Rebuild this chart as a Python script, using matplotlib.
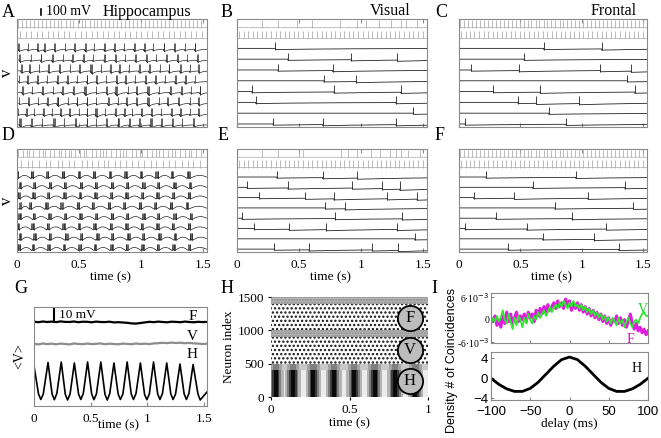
import numpy as np
import matplotlib
matplotlib.use("Agg")
import matplotlib.pyplot as plt
from matplotlib.transforms import blended_transform_factory

plt.rcParams['font.family'] = ['Liberation Serif', 'DejaVu Serif']
plt.rcParams['hatch.linewidth'] = 1.1

# ------------------------------------------------------------------ data
# spike times (s); rows 0-1 grey cells, rows 2-9 black cells
A_gray = [
    "0.010 0.042 0.071 0.105 0.138 0.166 0.199 0.233 0.262 0.296 0.330 0.358 0.391 0.425 0.454 0.489 0.521 0.550 0.584 0.617 0.646 0.680 0.712 0.742 0.776 0.808 0.838 0.871 0.904 0.934 0.967 1.000 1.030 1.063 1.096 1.126 1.159 1.192 1.222 1.255 1.288 1.318 1.351 1.384 1.414 1.447 1.480",
    "0.025 0.070 0.112 0.158 0.201 0.246 0.290 0.334 0.380 0.421 0.468 0.512 0.556 0.601 0.645 0.690 0.733 0.778 0.822 0.866 0.911 0.955 0.999 1.044 1.088 1.133 1.177 1.221 1.265 1.310 1.354 1.398 1.443 1.487",
]
# groups "onset x count"
A_black = [
    "0.010x2 0.085x1 0.165x2 0.215x2 0.300x2 0.390x1 0.460x2 0.545x2 0.620x1 0.700x2 0.780x2 0.860x1 0.940x2 1.020x2 1.095x1 1.180x2 1.265x2 1.350x1 1.430x2",
    "0.020x2 0.110x1 0.190x2 0.280x2 0.370x1 0.440x2 0.530x2 0.610x1 0.700x2 0.790x2 0.870x1 0.950x2 1.040x2 1.120x1 1.200x2 1.290x2 1.370x1 1.450x2",
    "0.030x2 0.100x2 0.180x1 0.250x2 0.340x2 0.430x1 0.500x2 0.590x3 0.680x1 0.750x2 0.820x2 0.900x1 0.980x2 1.060x2 1.150x1 1.220x2 1.310x2 1.390x1 1.460x2",
    "0.015x1 0.080x2 0.160x2 0.240x1 0.320x2 0.400x2 0.480x1 0.560x2 0.640x2 0.720x1 0.800x2 0.870x2 0.950x1 1.030x2 1.110x2 1.190x1 1.270x2 1.350x2 1.430x1",
    "0.040x2 0.120x1 0.200x2 0.290x1 0.360x2 0.450x2 0.540x3 0.640x1 0.720x2 0.790x3 0.890x1 0.960x2 1.050x3 1.140x1 1.230x2 1.320x2 1.400x1 1.470x2",
    "0.020x1 0.090x2 0.170x1 0.240x2 0.320x3 0.410x1 0.480x2 0.560x2 0.640x1 0.730x2 0.810x1 0.880x2 0.960x2 1.050x3 1.140x1 1.210x2 1.300x2 1.390x1 1.460x2",
    "0.010x1 0.070x2 0.140x1 0.210x2 0.280x1 0.350x2 0.420x2 0.500x1 0.560x2 0.630x3 0.710x1 0.790x2 0.860x2 0.930x1 1.000x2 1.080x2 1.160x1 1.240x2 1.310x2 1.390x1 1.460x2",
    "0.020x3 0.110x2 0.200x1 0.290x3 0.380x1 0.470x2 0.560x2 0.640x1 0.720x2 0.810x3 0.900x2 0.980x2 1.070x3 1.160x2 1.250x2 1.330x1 1.420x2",
]
D_gray = [
    "0.010 0.045 0.080 0.098 0.130 0.175 0.210 0.228 0.262 0.300 0.335 0.352 0.385 0.420 0.438 0.470 0.505 0.540 0.558 0.600 0.635 0.668 0.690 0.720 0.760 0.795 0.830 0.850 0.880 0.925 0.960 0.990 1.010 1.050 1.090 1.120 1.140 1.175 1.215 1.250 1.270 1.310 1.350 1.385 1.405 1.440 1.480",
    "0.030 0.085 0.120 0.175 0.230 0.262 0.330 0.360 0.420 0.455 0.520 0.560 0.600 0.650 0.700 0.730 0.790 0.830 0.880 0.930 0.975 1.020 1.080 1.120 1.175 1.220 1.270 1.330 1.380 1.420 1.470",
]
D_black = [
    "0.000x3 0.110x5 0.235x4 0.360x5 0.490x4 0.610x5 0.740x4 0.865x5 0.990x4 1.115x5 1.240x4 1.370x5",
    "0.015x4 0.130x4 0.255x5 0.375x4 0.505x5 0.625x4 0.755x5 0.880x4 1.005x5 1.130x4 1.255x5 1.385x4",
    "0.005x4 0.120x5 0.245x4 0.370x5 0.500x4 0.620x5 0.750x4 0.870x5 1.000x4 1.120x5 1.250x4 1.375x5",
    "0.020x3 0.100x4 0.225x5 0.350x4 0.480x5 0.600x4 0.730x5 0.855x4 0.980x5 1.105x4 1.230x5 1.360x4",
    "0.010x5 0.125x4 0.250x5 0.380x4 0.500x5 0.630x4 0.755x5 0.880x4 1.010x5 1.130x4 1.260x5 1.390x4",
    "0.000x4 0.115x5 0.240x4 0.365x5 0.490x4 0.615x5 0.745x4 0.870x5 0.995x4 1.120x5 1.245x4 1.375x5",
    "0.015x4 0.130x5 0.255x4 0.385x5 0.510x4 0.635x5 0.760x4 0.885x5 1.010x4 1.135x5 1.265x4 1.390x5",
    "0.005x5 0.120x4 0.245x5 0.370x4 0.495x5 0.620x4 0.750x5 0.875x4 1.000x5 1.125x4 1.250x5 1.380x4",
]
REG_GRAY_1 = "0.015 0.053 0.088 0.126 0.162 0.200 0.236 0.273 0.311 0.346 0.385 0.420 0.459 0.494 0.533 0.568 0.607 0.642 0.681 0.716 0.755 0.790 0.829 0.864 0.903 0.938 0.977 1.012 1.051 1.086 1.125 1.160 1.199 1.234 1.273 1.308 1.347 1.382 1.421 1.456 1.494"
REG_GRAY_0 = "0.010 0.040 0.075 0.105 0.140 0.170 0.205 0.232 0.268 0.300 0.332 0.365 0.395 0.430 0.462 0.495 0.525 0.560 0.590 0.625 0.655 0.690 0.720 0.752 0.785 0.818 0.850 0.882 0.915 0.945 0.980 1.012 1.045 1.075 1.110 1.140 1.172 1.205 1.238 1.270 1.302 1.335 1.368 1.400 1.432 1.465 1.495"
B_gray = ["0.20 0.33 0.48 0.60 0.83 0.97 1.04 1.14 1.24 1.32 1.36 1.45", REG_GRAY_1]
B_black = ["0.31", "0.41 0.92 1.29", "0.33 0.77", "0.70 0.96", "0.12 0.78 1.32",
           "0.15 1.28", "1.42", "0.29 0.69 1.28"]
C_gray = [REG_GRAY_0, REG_GRAY_1]
C_black = ["0.69 1.16", "0.53", "0.10 0.49 1.15 1.40", "1.37", "0.28 0.66 1.43",
           "0.48 0.63 0.98", "0.73", "0.05 0.87"]
E_gray = ["0.20 0.33 0.50 0.53 0.84 0.89 0.97 1.08 1.15 1.23 1.28 1.32 1.38 1.47", REG_GRAY_1]
E_black = ["0.32 0.69 0.97", "0.08 0.41 0.93 1.17 1.31", "0.18 0.55 0.78 1.21 1.45",
           "0.71 0.87", "0.04 0.79 1.33", "0.14 0.42 0.72 1.29", "1.43", "0.30 0.58 1.09 1.30"]
F_gray = [REG_GRAY_0, REG_GRAY_1]
F_black = ["0.22 0.95", "0.60 1.35", "0.12 0.45 1.05", "0.78 1.42", "0.30 0.92",
           "0.05 0.55 1.20", "0.68 1.10", "0.40 1.30"]

# panel G: population-mean potentials (display units)
G_F = [84.3, 83.8, 84.5, 84.0, 84.4, 83.9, 84.6, 84.1, 84.0, 84.5, 83.8, 84.3, 84.2, 83.7,
       84.4, 84.0, 83.9, 84.3, 83.6, 83.8, 83.5, 83.2, 82.6, 82.4, 83.0, 83.6, 84.2, 83.8,
       84.4, 84.0, 83.7, 84.3, 84.1, 83.8, 84.4, 84.0, 83.7, 84.2, 83.9, 84.1]
G_V = [62.2, 61.6, 62.5, 61.9, 62.3, 61.7, 62.4, 62.0, 61.6, 62.5, 62.1, 61.8, 62.4, 61.9,
       62.2, 62.6, 61.8, 62.3, 62.0, 61.7, 62.4, 62.1, 61.8, 62.5, 62.0, 62.3, 61.9, 62.6,
       62.8, 63.2, 62.9, 63.4, 63.0, 63.3, 62.8, 63.1, 62.6, 62.4, 62.0, 62.3]
# hippocampal oscillation: peak, shoulder, trough, shoulder ... (time s, value)
G_H_t = [0.000, 0.040, 0.060, 0.082,
         0.124, 0.160, 0.180, 0.202,
         0.241, 0.277, 0.297, 0.319,
         0.357, 0.394, 0.414, 0.436,
         0.474, 0.510, 0.530, 0.552,
         0.591, 0.628, 0.648, 0.670,
         0.707, 0.744, 0.764, 0.786,
         0.824, 0.860, 0.880, 0.902,
         0.941, 0.978, 0.998, 1.020,
         1.057, 1.094, 1.114, 1.136,
         1.174, 1.210, 1.230, 1.252,
         1.291, 1.328, 1.348, 1.370,
         1.407, 1.450, 1.470, 1.492, 1.530]
G_H_v = [40.0, 12.0, 6.5, 12.0,
         43.5, 12.0, 6.3, 12.5,
         44.0, 11.5, 6.0, 12.0,
         43.0, 12.0, 6.5, 12.5,
         44.0, 12.0, 6.3, 12.0,
         44.0, 11.5, 6.0, 12.5,
         43.0, 12.0, 6.5, 12.0,
         44.0, 12.0, 6.5, 12.5,
         43.0, 11.5, 6.3, 12.0,
         44.0, 12.0, 6.5, 12.5,
         43.0, 12.0, 6.5, 12.0,
         42.0, 12.0, 6.5, 12.5,
         41.5, 12.0, 6.0, 9.0, 14.0]

# panel H: raster theta stripe times and circle labels
H_stripes = [0.03, 0.14, 0.27, 0.40, 0.53, 0.66, 0.79, 0.92]
H_labels = ['F', 'V', 'H']
H_label_y = [1190, 710, 235]

# panel I: cross-correlation densities (x 1e-3)
I_delay = np.arange(-100, 100.1, 2.5)
I_V = [-1.0, 0.5, -0.5, 1.0, -0.5, 0.5, 2.5, 0.0, -1.0, 1.5, -0.5, -2.5, 0.5, -1.5, 1.0,
       0.0, -2.0, 0.5, -1.0, 1.5, 0.0, -1.0, 1.0, 0.0, 2.0, 0.5, 1.5, 2.5, 1.0, 2.0, 3.5,
       2.0, 3.0, 4.0, 3.0, 4.5, 3.5, 5.0, 4.0, 3.0, 4.5, 3.5, 5.0, 3.5, 4.0, 3.0, 4.0, 2.5,
       3.5, 2.0, 3.0, 1.5, 2.5, 1.0, 2.0, 0.5, 1.5, 0.0, 1.0, -0.5, 0.5, -1.0, 0.5, -0.5,
       -1.5, 0.5, -1.0, 0.0, -2.0, -0.5, 0.5, -1.0, -2.0, -0.5, 0.0, -1.0, 0.5, 1.5, 2.0,
       1.0, 1.0]
I_F = [0.5, -0.5, 1.0, -1.5, 0.0, -2.0, 1.0, -1.0, 2.0, -0.5, 1.5, -1.0, 0.5, 2.0, -0.5,
       1.0, 0.0, 1.5, -0.5, 2.0, 0.5, 1.5, -0.5, 2.5, 1.0, 3.0, 1.5, 3.5, 2.0, 4.0, 2.5,
       3.5, 4.5, 3.0, 5.0, 3.5, 4.5, 3.0, 5.5, 3.5, 5.0, 2.5, 4.5, 3.0, 4.5, 2.5, 4.0, 2.0,
       3.5, 1.5, 3.0, 1.0, 2.5, 0.5, 2.0, 0.0, 1.5, -0.5, 1.0, -1.0, 0.5, -1.5, 0.0, -0.5,
       1.0, -1.0, 0.5, -1.5, 0.0, -2.0, -0.5, 1.5, -1.0, -2.5, -1.0, -3.0, -2.0, -3.5, -2.5,
       -4.0, -3.0]
I_H_delay = [-100, -90, -80, -70, -60, -50, -40, -30, -20, -10, 0, 10, 20, 30, 40, 50, 60, 70, 80, 90, 100]
I_H = [0.0, -1.2, -2.1, -2.6, -2.6, -2.0, -0.8, 0.8, 2.4, 3.7, 4.2, 3.7, 2.4, 0.8, -0.8,
       -2.0, -2.6, -2.6, -2.1, -1.2, 0.0]

# ------------------------------------------------------------------ helpers
W, Hh = 661, 438
fig = plt.figure(figsize=(6.61, 4.38), dpi=100)


def add_ax(l, t, r, b):
    return fig.add_axes([l / W, 1 - b / Hh, (r - l) / W, (b - t) / Hh])


def ftext(x, y, s, **kw):
    fig.text(x / W, 1 - y / Hh, s, **kw)


def parse(s):
    return [float(x) for x in s.split()]


def parse_groups(s, isi):
    out = []
    for tok in s.split():
        t0, n = tok.split('x')
        out += [float(t0) + k * isi for k in range(int(n))]
    return out


TMAX = 1.53
tt = np.linspace(0, TMAX, 2400)
EDGE = '#8a8a8a'


def style_trace_axes(ax, labels=False):
    ax.set_xlim(0, TMAX)
    ax.set_ylim(0, 10)
    for sp in ax.spines.values():
        sp.set_color(EDGE)
        sp.set_linewidth(0.8)
    ax.set_yticks([])
    ax.set_xticks([0, 0.5, 1, 1.5])
    ax.tick_params(axis='x', direction='in', length=3, color=EDGE, top=True,
                   labelsize=9.5, pad=5)
    if labels:
        ax.set_xticklabels(['0', '0.5', '1', '1.5'])
        tr = blended_transform_factory(ax.transData, ax.transAxes)
        ax.text(0.75, -0.245, 'time (s)', transform=tr, ha='center', va='center', fontsize=9.5)
    else:
        ax.set_xticklabels([])


def draw_rows(ax, gray_rows, black_rows, mode):
    for i in range(10):
        base = 9 - i + 0.2
        if i < 2:
            sp = np.array(parse(gray_rows[i]))
            col = '#a8a8a8'
            v = np.full_like(tt, base)
            ax.plot(tt, v, color=col, lw=0.5)
            ax.vlines(sp, base, base + 0.72, color=col, lw=0.55)
            continue
        col = '#222222'
        s = black_rows[i - 2]
        if mode == 'A':
            sp = np.array(parse_groups(s, 0.007))
            v = np.full_like(tt, base)
            for x in sp:
                m = tt >= x
                v[m] -= 0.12 * np.exp(-(tt[m] - x) / 0.03)
            h = 0.6
            lw = 0.5
        elif mode == 'D':
            sp = np.array(parse_groups(s, 0.0055))
            toks = s.split()
            onsets = [float(tok.split('x')[0]) for tok in toks]
            ends = [o + (int(tok.split('x')[1]) - 1) * 0.0055 for o, tok in zip(onsets, toks)]
            v = np.full_like(tt, base)
            nxt = onsets[1:] + [TMAX + 0.02]
            for e, n in zip(ends, nxt):
                m = (tt > e) & (tt < n)
                frac = (tt[m] - e) / (n - e)
                v[m] += 0.30 * np.sin(np.pi * frac) - 0.06
            h = 0.62
            lw = 0.5
        else:
            sp = np.array(parse(s))
            v = np.full_like(tt, base + 0.08)
            for x in sp:
                m = tt >= x
                v[m] -= 0.11 * np.exp(-(tt[m] - x) / 0.6)
            h = 0.65
            lw = 0.6
        ax.plot(tt, v, color=col, lw=lw)
        lo = np.interp(sp + 0.002, tt, v)
        ax.vlines(sp, lo, base + h, color=col, lw=lw)


# ------------------------------------------------------------------ panels A-F
boxes_top = [(17, 19, 207, 127), (237, 19, 427, 127), (459, 19, 647, 127)]
boxes_bot = [(17, 149, 207, 252), (237, 149, 427, 252), (459, 149, 647, 252)]
top_data = [(A_gray, A_black, 'A'), (B_gray, B_black, 'B'), (C_gray, C_black, 'B')]
bot_data = [(D_gray, D_black, 'D'), (E_gray, E_black, 'B'), (F_gray, F_black, 'B')]

top_axes = []
for box, dat in zip(boxes_top, top_data):
    ax = add_ax(*box)
    draw_rows(ax, *dat)
    style_trace_axes(ax, labels=False)
    top_axes.append(ax)
bot_axes = []
for box, dat in zip(boxes_bot, bot_data):
    ax = add_ax(*box)
    draw_rows(ax, *dat)
    style_trace_axes(ax, labels=True)
    bot_axes.append(ax)
axA, axB, axC = top_axes
axD = bot_axes[0]

# titles / scale bar
axA.plot([0.19, 0.19], [10.35, 10.95], color='black', lw=1.2, clip_on=False)
axA.text(0.23, 10.65, '100 mV', fontsize=10, va='center', ha='left')
axA.text(1.40, 10.65, 'Hippocampus', fontsize=11.5, va='center', ha='right')
axB.text(1.40, 10.7, 'Visual', fontsize=11.5, va='center', ha='right')
axC.text(1.45, 10.7, 'Frontal', fontsize=11.5, va='center', ha='right')
for ax in (axA, axD):
    ax.text(-0.055, 0.5, 'v', transform=ax.transAxes, rotation=90, fontsize=12,
            va='center', ha='center')

# panel letters
for s, x, y in [('A', 2, 4), ('B', 221, 4), ('C', 435, 4), ('D', 2, 127), ('E', 218, 127),
                ('F', 435, 127), ('G', 14, 280), ('H', 221, 280), ('I', 431, 280)]:
    ftext(x, y, s, fontsize=13, va='top', ha='left')

# ------------------------------------------------------------------ panel G
axG = add_ax(34, 307, 207, 406)
gt = np.linspace(0, TMAX, len(G_F))
axG.plot(gt, G_F, color='black', lw=1.6)
axG.plot(gt, G_V, color='#8c8c8c', lw=1.6)
axG.plot(G_H_t, G_H_v, color='black', lw=1.2)
axG.set_xlim(0, TMAX)
axG.set_ylim(0, 99)
axG.set_yticks([])
axG.set_xticks([0, 0.5, 1, 1.5])
axG.set_xticklabels(['0', '0.5', '1', '1.5'])
axG.tick_params(axis='x', direction='in', length=3, labelsize=9.5, pad=5, top=False, color=EDGE)
for sp in axG.spines.values():
    sp.set_color(EDGE)
    sp.set_linewidth(0.8)
trG = blended_transform_factory(axG.transData, axG.transAxes)
axG.text(0.75, -0.19, 'time (s)', transform=trG, ha='center', va='center', fontsize=9.5)
axG.plot([0.18, 0.18], [86, 97], color='black', lw=1.5)
axG.text(0.22, 91.5, '10 mV', fontsize=9.5, va='center', ha='left')
axG.text(1.40, 90, 'F', fontsize=11, ha='center', va='center')
axG.text(1.40, 69, 'V', fontsize=11, ha='center', va='center')
axG.text(1.40, 52, 'H', fontsize=11, ha='center', va='center')
axG.text(-0.08, 0.5, '<V>', transform=axG.transAxes, rotation=90, fontsize=10,
         va='center', ha='center')

# ------------------------------------------------------------------ panel H
axH = add_ax(271, 297, 428, 397)
axH.set_xlim(0, 1)
axH.set_ylim(0, 1500)
for b in (1000, 500):
    axH.bar(0.5, 400, width=1.0, bottom=b, color='white', edgecolor='#111111',
            hatch='....', linewidth=0)
for b in (1400, 900):
    axH.bar(0.5, 100, width=1.0, bottom=b, color='#b8b8b8', edgecolor='#8a8a8a',
            hatch='......', linewidth=0)
axH.bar(0.5, 100, width=1.0, bottom=400, color='#c8c8c8', linewidth=0)
axH.bar(0.5, 400, width=1.0, bottom=0, color='#ececec', linewidth=0)
for w, c in [(0.10, '#b4b4b4'), (0.07, '#7e7e7e'), (0.045, '#3c3c3c'), (0.025, '#0a0a0a')]:
    axH.bar(H_stripes, 400, width=w, bottom=0, color=c, linewidth=0)
for w, c in [(0.08, '#a4a4a4'), (0.04, '#808080')]:
    axH.bar(H_stripes, 100, width=w, bottom=400, color=c, linewidth=0)
axH.scatter([0.885] * 3, H_label_y, s=330, facecolor='#bdbdbd', edgecolor='black',
            linewidth=1.3, zorder=5, clip_on=False)
for lab, y in zip(H_labels, H_label_y):
    axH.text(0.885, y, lab, fontsize=12, ha='center', va='center', zorder=6)
axH.set_xticks([0, 0.5, 1])
axH.set_xticklabels(['0', '0.5', '1'])
axH.set_yticks([0, 500, 1000, 1500])
axH.tick_params(direction='out', length=2, labelsize=9.5, pad=3)
for sp in axH.spines.values():
    sp.set_visible(False)
axH.set_xlabel('time (s)', fontsize=9.5, labelpad=1)
axH.set_ylabel('Neuron index', fontsize=9.5, labelpad=2)

# ------------------------------------------------------------------ panel I
axI1 = add_ax(491, 293, 648, 343)
axI2 = add_ax(491, 352, 648, 400)
axI1.plot(I_delay, I_F, color='#e01ce0', lw=2.2)
axI1.plot(I_delay, I_V, color='#2ee82e', lw=1.3)
axI1.set_xlim(-100, 100)
axI1.set_ylim(-6.2, 7.1)
axI1.set_yticks([-6, 0, 6])
axI1.set_yticklabels([r'-6$\cdot$10$^{-3}$', '0', r'6$\cdot$10$^{-3}$'])
axI1.set_xticks([-100, -50, 0, 50, 100])
axI1.set_xticklabels([])
axI1.text(93, 2.8, 'V', color='#22cc22', fontsize=10, ha='center', va='center')
axI1.text(78, -5.3, 'F', color='#cc11cc', fontsize=10, ha='center', va='center')

axI2.plot(I_H_delay, I_H, color='black', lw=2.0)
axI2.set_xlim(-100, 100)
axI2.set_ylim(-4.3, 5.2)
axI2.set_yticks([-4, 0, 4])
axI2.set_xticks([-100, -50, 0, 50, 100])
axI2.text(85, 2.0, 'H', fontsize=10, ha='center', va='center')
axI2.set_xlabel('delay (ms)', fontsize=9.5, labelpad=0)
for ax in (axI1, axI2):
    for sp in ax.spines.values():
        sp.set_color(EDGE)
        sp.set_linewidth(0.8)
    ax.tick_params(direction='in', length=2.5, labelsize=9.5, pad=2, color=EDGE)
axI2.tick_params(axis='x', pad=4)
axI1.tick_params(axis='y', labelsize=7, pad=1)
for lab in axI2.get_xticklabels() + axI2.get_yticklabels():
    lab.set_fontfamily(['Liberation Sans', 'DejaVu Sans'])
ftext(452, 360, 'Density # of Coincidences', rotation=90, fontsize=9, va='center',
      ha='center', family=['Liberation Sans', 'DejaVu Sans'])

fig.savefig('out.png', dpi=100)
